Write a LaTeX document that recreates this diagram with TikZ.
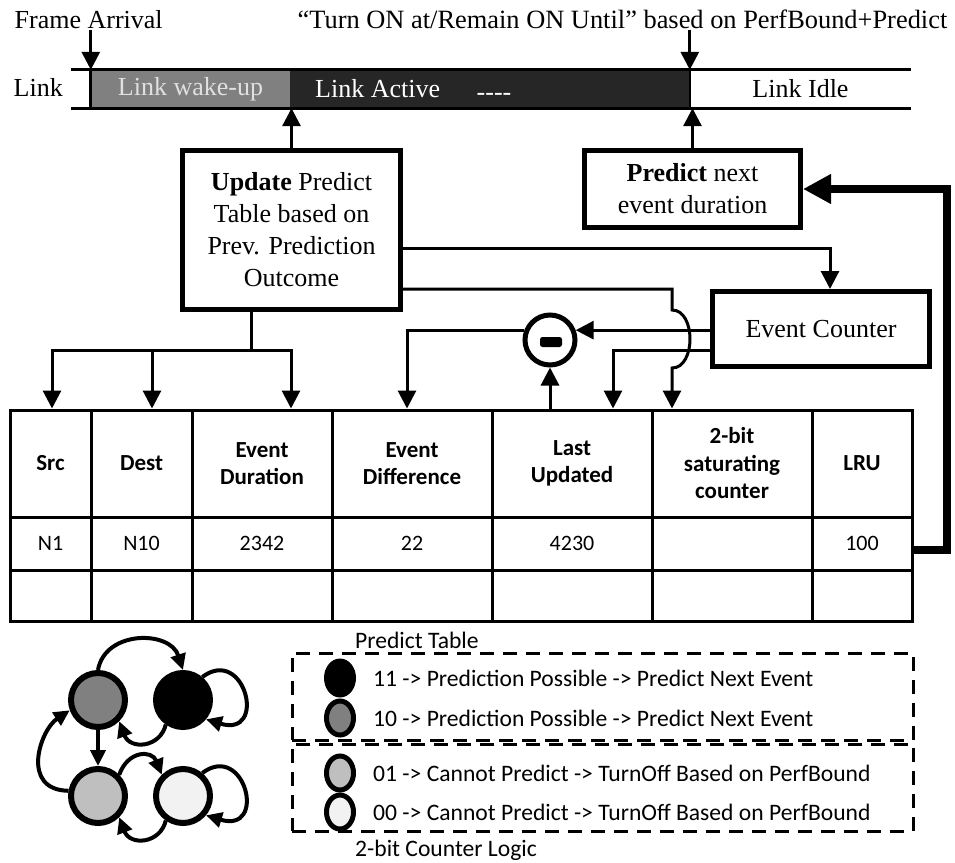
\documentclass[tikz,border=0pt]{standalone}
\usepackage{fontspec}
\setmainfont{Liberation Serif}
\newfontfamily\calfont{Carlito}
\usetikzlibrary{arrows.meta,shapes.geometric}
\definecolor{wakegrey}{HTML}{808080}
\definecolor{activegrey}{HTML}{262626}
\definecolor{lightgrey}{HTML}{BFBFBF}
\definecolor{palegrey}{HTML}{F2F2F2}
\begin{document}
\begin{tikzpicture}[x=1pt,y=-1pt,
  serif/.style={font=\fontsize{26}{32}\selectfont},
  label/.style={serif,inner sep=1.5pt},
  arr/.style={line width=3pt,-{Triangle[length=18pt,width=18pt]}},
  heavyarr/.style={line width=8pt,-{Triangle[length=28pt,width=28pt]}},
  sarr/.style={line width=4pt,-{Triangle[length=16pt,width=15pt]}},
  bigbox/.style={draw,line width=5pt,align=center,serif,inner sep=0pt},
  segment/.style={minimum height=38pt,inner sep=0pt,serif},
  cell/.style={draw,line width=3pt,inner sep=0pt,align=center},
  hcell/.style={cell,minimum height=107pt,font=\calfont\bfseries\fontsize{23}{27.5}\selectfont},
  dcell/.style={cell,minimum height=53pt,font=\calfont\fontsize{22}{26}\selectfont},
  ecell/.style={cell,minimum height=51pt},
  legend/.style={font=\calfont\fontsize{23.6}{27}\selectfont,inner sep=0pt},
  legbox/.style={draw,line width=3pt,dash pattern=on 14pt off 9pt,minimum width=621pt,inner sep=0pt},
  dot/.style={ellipse,inner sep=0pt},
  ringdot/.style={dot,draw,line width=5pt,minimum width=27pt,minimum height=34pt},
  state/.style={circle,draw,line width=6pt,minimum size=54pt,inner sep=0pt},
]
\fill[white] (0,0) rectangle (955,862);
\useasboundingbox (0,0) rectangle (955,862);

% ---- link timeline ----
\node[segment,fill=wakegrey,minimum width=199pt,text=white!88!black] (wake) at (190.5,89) {Link wake-up};
\node[segment,fill=activegrey,minimum width=400pt] (active) at (490,89) {};
\node[serif,text=white,anchor=west,inner sep=0pt] (activetxt) at (315,89) {Link Active};
\node[serif,text=white,inner sep=0pt,anchor=base] (dashes) at (494,100) {{-}{-}{-}{-}};
\node[segment,minimum width=221pt] (idle) at (800.5,89) {Link Idle};
\node[label,anchor=base west] (linklbl) at (12,96) {Link};
\draw[line width=3pt] ([xshift=-20pt]wake.north west) -- (idle.north east);
\draw[line width=3pt] ([xshift=-20pt]wake.south west) -- (idle.south east);
\draw[line width=3pt] (wake.north west) -- (wake.south west);
\draw[line width=2pt] (active.north east) -- (active.south east);

\node[label,anchor=base west] (fa) at (13,28) {Frame Arrival};
\node[label,anchor=base west,font=\fontsize{26.4}{32}\selectfont] (quote) at (296,28) {``Turn ON at/Remain ON Until'' based on PerfBound+Predict};
\draw[arr] (fa.south -| wake.west) -- (wake.north west);
\draw[arr] (quote.south -| idle.west) -- (idle.north west);

% ---- control boxes ----
\node[bigbox,minimum width=218pt,minimum height=159pt] (upd) at (291.5,230)
  {\textbf{Update} Predict\\Table based on\\Prev. Prediction\\Outcome};
\node[bigbox,minimum width=216pt,minimum height=77pt] (pred) at (692.5,189)
  {\textbf{Predict} next\\event duration};
\node[bigbox,minimum width=217pt,minimum height=75pt] (ec) at (821,329) {Event Counter};
\node[circle,draw,line width=5pt,minimum size=50pt,inner sep=0pt] (minus) at (550,340) {};
\node[fill,rounded corners=2.5pt,minimum width=22pt,minimum height=10pt,inner sep=0pt] (minusbar) at (551,342) {};

\draw[arr] (upd.north) -- (upd.north |- wake.south);
\draw[arr] (pred.north) -- (pred.north |- idle.south);

% ---- predict table ----
\foreach \i/\l/\r/\h/\d in {1/10/91/Src/N1, 2/91/192/Dest/N10,
    3/192/332/{Event\\Duration}/2342, 4/332/492/{Event\\Difference}/22,
    5/492/652/{Last\\Updated}/4230, 6/652/812/{2-bit\\saturating\\counter}/{},
    7/812/912/LRU/100}{
  \node[hcell,minimum width={(\r-\l)*1pt}] (h\i) at ({(\l+\r)/2},463.5) {\h};
  \node[dcell,minimum width={(\r-\l)*1pt}] (d\i) at ({(\l+\r)/2},543.5) {\d};
  \node[ecell,minimum width={(\r-\l)*1pt}] (e\i) at ({(\l+\r)/2},595.5) {};
}

% ---- connectors into the table ----
\coordinate (ubr) at (251,350);
\draw[line width=3pt] ([xshift=-40.5pt]upd.south) -- (ubr);
\draw[arr] (ubr) -| ([xshift=1.5pt]h1.north);
\draw[arr] (ubr) -| ([xshift=10.5pt]h2.north);
\draw[arr] (ubr) -| ([xshift=29pt]h3.north);

\draw[arr] ([yshift=-18pt]upd.east) -| ([xshift=9pt]ec.north);
\coordinate (hopA) at (672,310);
\coordinate (hopB) at (672,368);
\draw[arr] ([yshift=-59pt]upd.east) -| (hopA) .. controls +(24,0) and +(24,0) .. (hopB) -- (hopB |- h6.north);

\draw[arr] (ec.west |- minus.21) -- (minus.21);
\draw[arr] (minus.159) -| ([xshift=-5pt]h4.north);
\draw[arr] (h5.north -| minus.south) -- (minus.south);
\draw[arr] ([yshift=-21pt]ec.west) -| ([xshift=41pt]h5.north);

\draw[heavyarr] ([yshift=-6.5pt]d7.east) -- ++(33,0) |- (pred.east);

% ---- legend ----
\node[legend,anchor=west] (ptitle) at (355,640) {Predict Table};
\node[legbox,minimum height=87pt] (box1) at (602.5,696.5) {};
\node[legbox,minimum height=87pt] (box2) at (602.5,787.5) {};
\node[legend,anchor=west] (ctitle) at (355,850) {2-bit Counter Logic};

\node[dot,fill=black,minimum width=32pt,minimum height=39pt] (l11) at (340,678) {};
\node[ringdot,fill=wakegrey] (l10) at (340,718) {};
\node[ringdot,fill=lightgrey] (l01) at (340,773) {};
\node[ringdot,fill=palegrey] (l00) at (340,812) {};
\node[legend,anchor=west] (t11) at (373,678) {11 -> Prediction Possible -> Predict Next Event};
\node[legend,anchor=west] (t10) at (373,718) {10 -> Prediction Possible -> Predict Next Event};
\node[legend,anchor=west] (t01) at (373,773) {01 -> Cannot Predict -> TurnOff Based on PerfBound};
\node[legend,anchor=west] (t00) at (373,812) {00 -> Cannot Predict -> TurnOff Based on PerfBound};

% ---- 2-bit saturating counter states ----
\node[state,fill=wakegrey] (s10) at (98,700) {};
\node[state,fill=black] (s11) at (183,700) {};
\node[state,fill=lightgrey] (s01) at (98,796) {};
\node[state,fill=palegrey] (s00) at (183,796) {};

\draw[sarr] (s10.north) .. controls (105,630) and (170,630) .. (s11.north);
\draw[sarr] (s11.50) .. controls (245,645) and (268,738) .. (s11.-40);
\draw[sarr] (s11.235) .. controls (160,748) and (130,750) .. (s10.-45);
\draw[sarr] (s10.south) -- (s01.north);
\draw[sarr] (s01.170) .. controls (20,790) and (40,730) .. (s10.200);
\draw[sarr] (s01.45) .. controls (128,750) and (152,750) .. (s00.135);
\draw[sarr] (s00.50) .. controls (245,741) and (268,834) .. (s00.-40);
\draw[sarr] (s00.235) .. controls (160,844) and (130,846) .. (s01.-45);
\end{tikzpicture}
\end{document}
